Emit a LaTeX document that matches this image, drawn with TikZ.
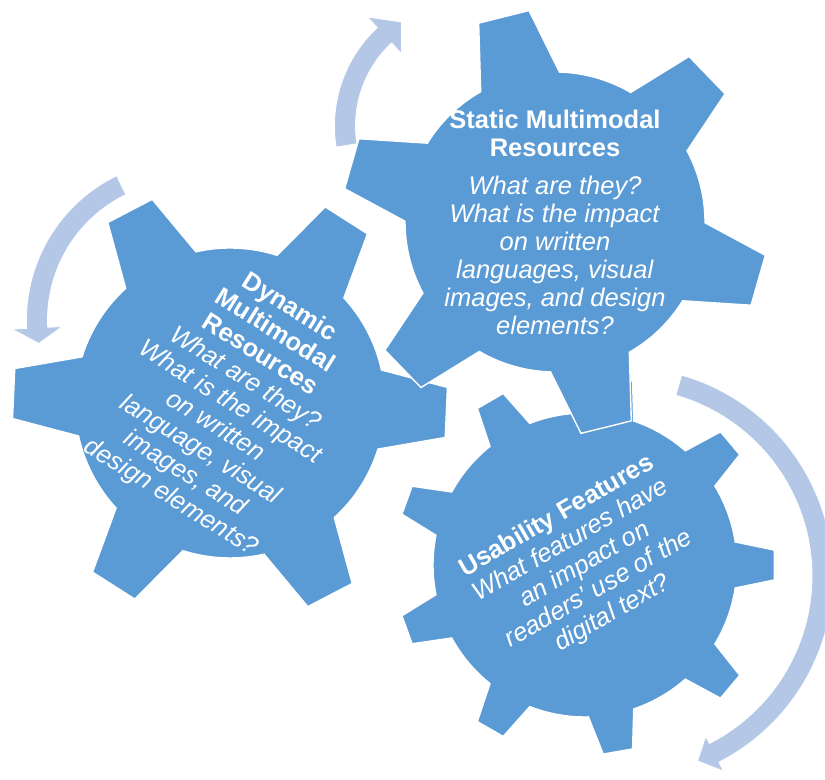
\documentclass[tikz,border=0pt]{standalone}
\usepackage{fontspec}
\setmainfont{Liberation Sans}

\definecolor{gearblue}{HTML}{5B9BD5}
\definecolor{arrowblue}{HTML}{B4C7E7}

% center, teeth, first tooth angle, body radius, tip radius, half base, half tip
\newcommand{\drawgear}[7]{%
  \begin{scope}[shift={#1}]
    \pgfmathsetmacro\gstep{360/#2}
    \filldraw[gear] ({#3-#6}:#4)
      \foreach \i in {1,...,#2}{
        -- ({#3+(\i-1)*\gstep-#6}:#4) -- ({#3+(\i-1)*\gstep-#7}:#5)
        -- ({#3+(\i-1)*\gstep+#7}:#5) -- ({#3+(\i-1)*\gstep+#6}:#4)
        arc[start angle={#3+(\i-1)*\gstep+#6}, delta angle={\gstep-2*#6}, radius=#4]
      } -- cycle;
  \end{scope}}
\newcommand{\hd}[1]{\textbf{#1}}
\newcommand{\qu}[1]{\textit{#1}}

\begin{document}
\begin{tikzpicture}[x=0.5pt, y=0.5pt,
gear/.style={fill=gearblue, draw=white, line width=0.7pt},
ring/.style={fill=arrowblue, draw=white, line width=0.4pt},
txt/.style={text=white, align=center, font=\fontsize{12.75}{14}\selectfont},
]
\useasboundingbox (0,0) rectangle (825,780);
\clip (0,0) rectangle (825,780);

% turning arrows
\begin{scope}[shift={(469,654)}]
  \filldraw[ring] (189:134.5) arc[start angle=189, end angle=133, radius=134.5]
    -- (133:149) -- (123:124) -- (133:99) -- (133:113.5)
    arc[start angle=133, end angle=189, radius=113.5] -- cycle;
\end{scope}
\begin{scope}[shift={(187,460)}]
  \filldraw[ring] (116:160.5) arc[start angle=116, end angle=183, radius=160.5]
    -- (183:175) -- (189:150) -- (183:125) -- (183:139.5)
    arc[start angle=183, end angle=116, radius=139.5] -- cycle;
\end{scope}
\begin{scope}[shift={(624,204)}]
  \filldraw[ring] (74:209) arc[start angle=74, end angle=-63, radius=209]
    -- (-63:219) -- (-68.3:199) -- (-63:180) -- (-63:188)
    arc[start angle=-63, end angle=74, radius=188] -- cycle;
\end{scope}

% gears
\drawgear{(585,215)}{9}{0}{152}{190}{8.7}{4.5}
\drawgear{(230,377)}{6}{-2.5}{155}{218}{14.8}{6.6}
\drawgear{(555,558)}{6}{44}{150}{213}{15.7}{7}

% labels
\node[txt] (static) at (555,558) {\hd{Static Multimodal}\\\hd{Resources}\\[5pt]
  \qu{What are they?}\\\qu{What is the impact}\\\qu{on written}\\
  \qu{languages, visual}\\\qu{images, and design}\\\qu{elements?}};
\node[txt, rotate=-32] (dynamic) at (230,377) {\hd{Dynamic}\\\hd{Multimodal}\\\hd{Resources}\\
  \qu{What are they?}\\\qu{What is the impact}\\\qu{on written}\\
  \qu{language, visual}\\\qu{images, and}\\\qu{design elements?}};
\node[txt, rotate=30] (usability) at (585,215) {\hd{Usability Features}\\
  \qu{What features have}\\\qu{an impact on}\\\qu{readers' use of the}\\\qu{digital text?}};
\end{tikzpicture}
\end{document}
